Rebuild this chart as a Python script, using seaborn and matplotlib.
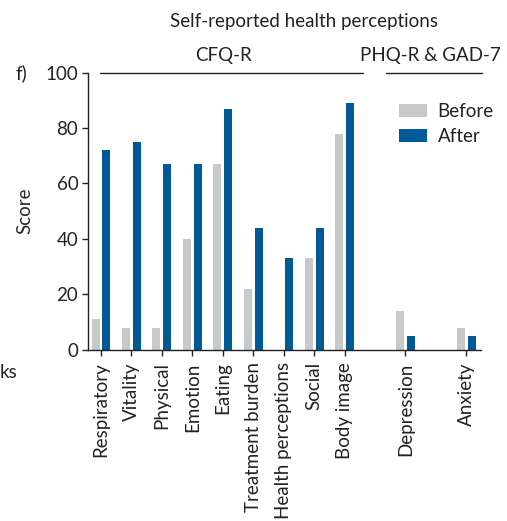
import matplotlib
matplotlib.use("Agg")
import matplotlib.pyplot as plt
import seaborn as sns
import pandas as pd

# ---- data ----
categories = ["Respiratory", "Vitality", "Physical", "Emotion", "Eating",
              "Treatment burden", "Health perceptions", "Social", "Body image",
              "Depression", "Anxiety"]
positions = [0, 1, 2, 3, 4, 5, 6, 7, 8, 10, 12]
before = [11, 8, 8, 40, 67, 22, 0, 33, 78, 14, 8]
after = [72, 75, 67, 67, 87, 44, 33, 44, 89, 5, 5]
groups = ["Before", "After"]
yticks = [0, 20, 40, 60, 80, 100]

GREY = "#C8C9CB"
BLUE = "#005A96"
INK = "#222222"

sns.set_theme(style="ticks")
plt.rcParams["font.family"] = ["Lato", "DejaVu Sans"]
FS = 13.5
plt.rcParams.update({
    "font.size": FS,
    "axes.edgecolor": INK,
    "axes.linewidth": 1.0,
    "xtick.color": INK,
    "ytick.color": INK,
    "xtick.major.width": 1.0,
    "ytick.major.width": 1.0,
    "xtick.major.size": 4,
    "ytick.major.size": 4,
    "text.color": INK,
})

df = pd.DataFrame({
    "pos": positions * 2,
    "score": before + after,
    "group": [groups[0]] * len(before) + [groups[1]] * len(after),
})

W, H = 507, 521
fig = plt.figure(figsize=(W / 100, H / 100), dpi=100)
ax = fig.add_axes([88 / W, 1 - 349.7 / H, (481 - 88) / W, (349.7 - 72.7) / H])

sns.barplot(data=df, x="pos", y="score", hue="group", native_scale=True,
            width=0.72, gap=0.27, palette=[GREY, BLUE], ax=ax,
            errorbar=None, saturation=1, linewidth=0)

ax.set_xlim(-0.427, 12.48)
ax.set_ylim(0, 100)
ax.set_yticks(yticks)
ax.set_yticklabels([str(v) for v in yticks], fontsize=FS)
ax.set_xticks(positions)
ax.set_xticklabels(categories, rotation=90, fontsize=FS)
ax.tick_params(axis="x", pad=5)
ax.tick_params(axis="y", pad=3)
ax.set_xlabel("")
ax.set_ylabel("Score", fontsize=FS)
ax.yaxis.set_label_coords((33 - 88) / 393, 0.5)
sns.despine(ax=ax)

# group lines
ax.plot([-0.03, 8.61], [100, 100], color=INK, lw=1.0, clip_on=False)
ax.plot([9.36, 12.52], [100, 100], color=INK, lw=1.0, clip_on=False)

leg = ax.legend(loc="upper left", bbox_to_anchor=(399 / W, 1 - 103 / H),
                bbox_transform=fig.transFigure, frameon=False, fontsize=FS,
                handlelength=1.5, handleheight=0.65, handletextpad=0.55,
                labelspacing=0.42, borderpad=0, borderaxespad=0)

def ftext(x, y, s, **kw):
    fig.text(x / W, 1 - y / H, s, fontsize=FS, va="center", **kw)

ftext(304, 22, "Self-reported health perceptions", ha="center")
ftext(224, 55, "CFQ-R", ha="center")
ftext(430, 55, "PHQ-R & GAD-7", ha="center")
ftext(15, 73, "f)", ha="left")
ftext(0, 373, "ks", ha="left")

fig.savefig("out.png", dpi=100)
